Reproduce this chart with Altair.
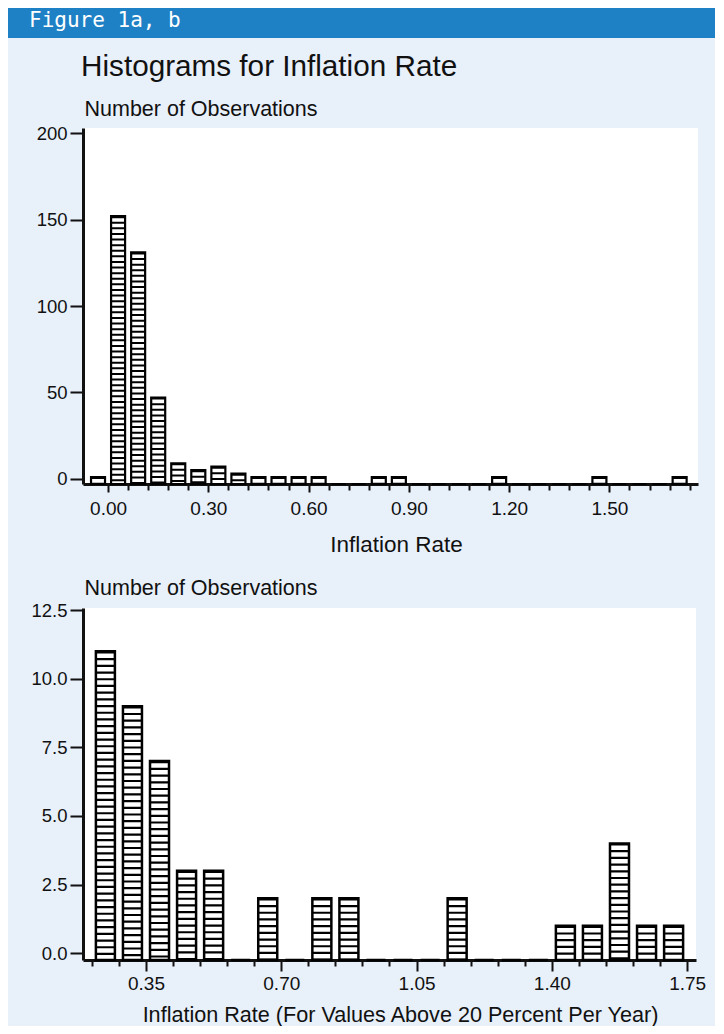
import altair as alt
import pandas as pd

# ---------------- data ----------------
# Figure 1a: all observations, bins of width 0.06 starting at -0.06
top_lo = [round(-0.06 + 0.06 * i, 2) for i in range(30)]
top_counts = [1, 152, 131, 47, 9, 5, 7, 3, 1, 1, 1, 1, 0, 0, 1, 1,
              0, 0, 0, 0, 1, 0, 0, 0, 0, 1, 0, 0, 0, 1]
top_xticks = [round(0.06 * i, 2) for i in range(30)]
top_yticks = [0, 50, 100, 150, 200]

# Figure 1b: observations above 20 percent, bins of width 0.07 from 0.21
bot_lo = [round(0.21 + 0.07 * i, 2) for i in range(22)]
bot_counts = [11, 9, 7, 3, 3, 0, 2, 0, 2, 2, 0, 0, 0, 2, 0, 0, 0, 1, 1, 4, 1, 1]
bot_xticks = [round(0.21 + 0.07 * i, 2) for i in range(23)]
bot_yticks = [0, 2.5, 5, 7.5, 10, 12.5]

BG = "#E8F0F9"
BLUE = "#1F81C5"
INK = "#111111"
FONT = "Liberation Sans, Arial, sans-serif"

one = pd.DataFrame({"a": [0]})
RIGHT = 632  # right edge of the whole figure, relative to the plot origin


def panel(lo, counts, width_bin, base, xdom, ydom, w, h, bar_w, stroke_w,
          dash, xticks, xmod, major_tick, label_pad, yticks, yfmt, xtitle,
          xtitle_size, xtitle_x, xtitle_y, ytitle_y, frame_top, frame_bottom,
          extra):
    df = pd.DataFrame({"lo": lo, "n": counts})
    df["mid"] = df["lo"] + width_bin / 2
    major = f"round(datum.value*100) % {xmod} == 0"
    xenc = alt.X(
        "mid:Q",
        scale=alt.Scale(domain=xdom, nice=False, zero=False),
        axis=alt.Axis(
            values=xticks,
            labelExpr=f"{major} ? format(datum.value, '.2f') : ''",
            labelOverlap=False, labelFlush=False, labelBound=False,
            labelFont=FONT, labelFontSize=19, labelColor=INK,
            labelPadding=label_pad,
            tickSize={"condition": {"test": major, "value": major_tick},
                      "value": 6},
            tickWidth=2, tickColor=INK,
            domainWidth=3, domainColor=INK, grid=False,
            title=xtitle, titleFont=FONT, titleFontSize=xtitle_size,
            titleFontWeight="normal", titleColor=INK,
            titleX=xtitle_x, titleY=xtitle_y, titleAlign="center",
            titleBaseline="alphabetic", titleAngle=0,
        ),
    )
    yenc = alt.Y(
        "top:Q",
        scale=alt.Scale(domain=ydom, nice=False, zero=False),
        axis=alt.Axis(
            values=yticks, format=yfmt,
            labelFont=FONT, labelFontSize=18.5, labelColor=INK, labelPadding=3,
            labelOverlap=False, labelFlush=False, labelBound=False,
            tickSize=13, tickWidth=2, tickColor=INK,
            domainWidth=3, domainColor=INK, grid=False,
            title="Number of Observations", titleFont=FONT,
            titleFontSize=21.5, titleFontWeight="normal", titleColor=INK,
            titleAngle=0, titleAlign="left", titleBaseline="alphabetic",
            titleX=1, titleY=ytitle_y,
        ),
    )
    basech = alt.Chart(df).transform_calculate(
        top=f"datum.n > 0 ? datum.n : {base}"
    )
    bars = basech.mark_bar(width=bar_w, fill="white", stroke="black",
                           strokeWidth=stroke_w).encode(
        x=xenc, y=yenc, y2=alt.datum(base))
    stripes = basech.mark_rule(stroke="black", strokeWidth=bar_w - 1,
                               strokeDash=dash, strokeCap="butt").encode(
        x=xenc, y=yenc, y2=alt.datum(base))
    frame = alt.Chart(one).mark_rect(opacity=0).encode(
        x=alt.value(-75), x2=alt.value(RIGHT),
        y=alt.value(frame_top), y2=alt.value(frame_bottom))
    return alt.layer(frame, *extra, bars, stripes).properties(width=w, height=h)


header = alt.Chart(one).mark_rect(fill=BLUE).encode(
    x=alt.value(-75), x2=alt.value(RIGHT), y=alt.value(-120), y2=alt.value(-90))
fig_label = alt.Chart(one).mark_text(
    text="Figure 1a, b", align="left", baseline="alphabetic",
    font="DejaVu Sans Mono", fontSize=21, color="white").encode(
    x=alt.value(-54), y=alt.value(-101))
main_title = alt.Chart(one).mark_text(
    text="Histograms for Inflation Rate", align="left", baseline="alphabetic",
    font=FONT, fontSize=29.7, color=INK).encode(
    x=alt.value(-2), y=alt.value(-52))

top = panel(top_lo, top_counts, 0.06, -3, [-0.06, 1.75], [-3, 203], 615, 356,
            14, 2.2, [2, 3.6], top_xticks, 30, 8, 7, top_yticks, "d",
            "Inflation Rate", 22.5, 313, 67, -13, -120, 440,
            [header, fig_label, main_title])

bottom = panel(bot_lo, bot_counts, 0.07, -0.25, [0.20, 1.76], [-0.25, 12.58],
               613, 352, 19, 2.5, [2.2, 4.5], bot_xticks, 35, 11, 3, bot_yticks,
               ".1f", "Inflation Rate (For Values Above 20 Percent Per Year)",
               21.6, 317, 61, -14, -40, 418, [])

chart = alt.vconcat(top, bottom, spacing=0, padding=0, background=BG).configure_view(
    stroke=None, fill="white")

chart.save("out.html", embed_options={"renderer": "svg", "actions": False})
